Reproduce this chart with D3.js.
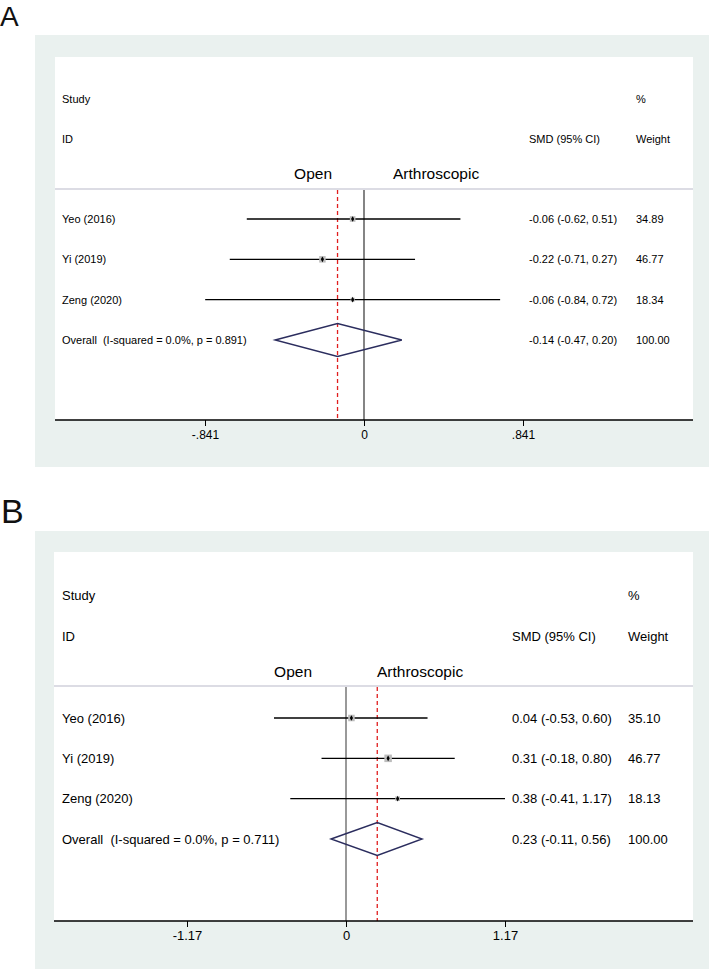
<!DOCTYPE html>
<html><head><meta charset="utf-8">
<script src="https://cdn.jsdelivr.net/npm/d3@7"></script>
<style>
html,body{margin:0;padding:0;background:#fff;}
svg text{font-family:"Liberation Sans",Arial,Helvetica,sans-serif;fill:#000;white-space:pre;}
</style></head>
<body>
<svg id="chart" width="709" height="970"></svg>
<script>
// ---------- data ----------
const studies = ["Yeo (2016)", "Yi (2019)", "Zeng (2020)"];

const smdA = [-0.06, -0.22, -0.06];
const lowA = [-0.62, -0.71, -0.84];
const highA = [0.51, 0.27, 0.72];
const weightA = [34.89, 46.77, 18.34];
const overallA = [-0.14, -0.47, 0.20];
const hetA = "Overall  (I-squared = 0.0%, p = 0.891)";
const ticksA = [-0.841, 0, 0.841];
const tickLabelsA = ["-.841", "0", ".841"];

const smdB = [0.04, 0.31, 0.38];
const lowB = [-0.53, -0.18, -0.41];
const highB = [0.60, 0.80, 1.17];
const weightB = [35.10, 46.77, 18.13];
const overallB = [0.23, -0.11, 0.56];
const hetB = "Overall  (I-squared = 0.0%, p = 0.711)";
const ticksB = [-1.17, 0, 1.17];
const tickLabelsB = ["-1.17", "0", "1.17"];

const sideLabels = ["Open", "Arthroscopic"];
const headers = {study: "Study", id: "ID", est: "SMD (95% CI)", pct: "%", weight: "Weight"};

// ---------- drawing ----------
const svg = d3.select("#chart");
const f2 = d3.formatLocale({decimal: ".", thousands: ",", grouping: [3], currency: ["", ""], minus: "-"}).format(".2f");
const estText = (e, l, h) => `${f2(e)} (${f2(l)}, ${f2(h)})`;

function panel(o) {
  const g = svg.append("g");
  g.append("text").attr("x", o.letterX).attr("y", o.letterY)
    .style("font-size", o.letterSize + "px").style("fill", "#111").text(o.letter);
  g.append("rect").attr("x", 35).attr("y", o.greyTop).attr("width", 674).attr("height", o.greyBottom - o.greyTop)
    .attr("fill", "#eaf1ef");
  g.append("rect").attr("x", o.wL).attr("y", o.whiteTop).attr("width", o.wR - o.wL).attr("height", o.axisY - o.whiteTop)
    .attr("fill", "#ffffff");

  const x = d3.scaleLinear().domain([o.ticks[0], o.ticks[2]]).range([o.tickPx0, o.tickPx2]);
  const y = d3.scalePoint().domain(d3.range(o.smd.length + 1)).range([o.row0, o.rowLast]);

  g.append("line").attr("x1", o.wL).attr("x2", o.wR).attr("y1", o.sepY).attr("y2", o.sepY)
    .attr("stroke", "#dcdce4").attr("stroke-width", 2);

  const fs = o.fs + "px";
  const t = (xx, yy, s, size, anchor) => g.append("text").attr("x", xx).attr("y", yy)
      .attr("dominant-baseline", "central").attr("text-anchor", anchor || "start")
      .style("font-size", size || fs).text(s);
  t(o.textX, o.hdr1, headers.study);
  t(o.textX, o.hdr2, headers.id);
  t(o.estX, o.hdr2, headers.est);
  t(o.wX, o.hdr1, headers.pct);
  t(o.wX, o.hdr2, headers.weight);
  t(x(0) - o.sideGap, o.sideY, sideLabels[0], "15.5px", "end");
  t(x(0) + o.sideGap - 3, o.sideY, sideLabels[1], "15.5px", "start");

  g.append("line").attr("x1", x(0)).attr("x2", x(0)).attr("y1", o.sepY + 1).attr("y2", o.axisY)
    .attr("stroke", o.zeroColor).attr("stroke-width", 1.2);
  g.append("line").attr("x1", x(o.overall[0])).attr("x2", x(o.overall[0])).attr("y1", o.sepY + 1).attr("y2", o.axisY)
    .attr("stroke", "#e01e1e").attr("stroke-width", 1.3).attr("stroke-dasharray", "4,3");

  o.smd.forEach((e, i) => {
    const yy = y(i);
    g.append("line").attr("x1", x(o.low[i])).attr("x2", x(o.high[i])).attr("y1", yy).attr("y2", yy)
      .attr("stroke", "#000").attr("stroke-width", 1.4);
    const s = o.sq * Math.sqrt(o.weight[i]);
    g.append("rect").attr("x", x(e) - s / 2).attr("y", yy - s / 2).attr("width", s).attr("height", s)
      .attr("fill", "#bdbdbd");
    g.append("path").attr("d", d3.symbol(d3.symbolDiamond, 9)())
      .attr("transform", `translate(${x(e)},${yy})`).attr("fill", "#000");
    t(o.textX, yy, studies[i]);
    t(o.estX, yy, estText(e, o.low[i], o.high[i]));
    t(o.wX, yy, f2(o.weight[i]));
  });

  const yo = y(o.smd.length), ov = o.overall, h = o.diaH;
  g.append("path")
    .attr("d", `M${x(ov[1])},${yo}L${x(ov[0])},${yo - h}L${x(ov[2])},${yo}L${x(ov[0])},${yo + h}Z`)
    .attr("fill", "none").attr("stroke", "#2b2d5e").attr("stroke-width", 1.4);
  t(o.textX, yo, o.het);
  t(o.estX, yo, estText(ov[0], ov[1], ov[2]));
  t(o.wX, yo, f2(100));

  g.append("line").attr("x1", o.wL).attr("x2", o.wR).attr("y1", o.axisY).attr("y2", o.axisY)
    .attr("stroke", "#000").attr("stroke-width", 1.5);
  const ax = g.append("g").attr("transform", `translate(0,${o.axisY})`)
    .call(d3.axisBottom(x).tickValues(o.ticks).tickFormat((d, i) => o.tickLabels[i]).tickSize(6).tickPadding(4));
  ax.select(".domain").remove();
  ax.selectAll(".tick line").attr("stroke", "#000").attr("stroke-width", 1);
  ax.selectAll(".tick text").style("font-size", o.tickFs + "px").attr("fill", "#000")
    .style("font-family", '"Liberation Sans",Arial,sans-serif');
}

panel({
  letter: "A", letterX: 0, letterY: 26, letterSize: 28,
  greyTop: 35, greyBottom: 467, whiteTop: 57, wL: 55, wR: 693, axisY: 420,
  ticks: ticksA, tickLabels: tickLabelsA, tickPx0: 205, tickPx2: 523,
  smd: smdA, low: lowA, high: highA, weight: weightA, overall: overallA, het: hetA,
  row0: 219, rowLast: 340, sepY: 189, hdr1: 99, hdr2: 139, sideY: 173, sideGap: 32,
  textX: 62, estX: 529, wX: 636, fs: 11, tickFs: 12, sq: 0.95, diaH: 16.5, zeroColor: "#333"
});

panel({
  letter: "B", letterX: 1, letterY: 523, letterSize: 34,
  greyTop: 531, greyBottom: 969, whiteTop: 552, wL: 54, wR: 693, axisY: 921,
  ticks: ticksB, tickLabels: tickLabelsB, tickPx0: 187, tickPx2: 505,
  smd: smdB, low: lowB, high: highB, weight: weightB, overall: overallB, het: hetB,
  row0: 718, rowLast: 839, sepY: 686, hdr1: 595, hdr2: 636, sideY: 671, sideGap: 34,
  textX: 62, estX: 512, wX: 628, fs: 13, tickFs: 13, sq: 1.1, diaH: 16.5, zeroColor: "#555"
});
</script>
</body></html>
